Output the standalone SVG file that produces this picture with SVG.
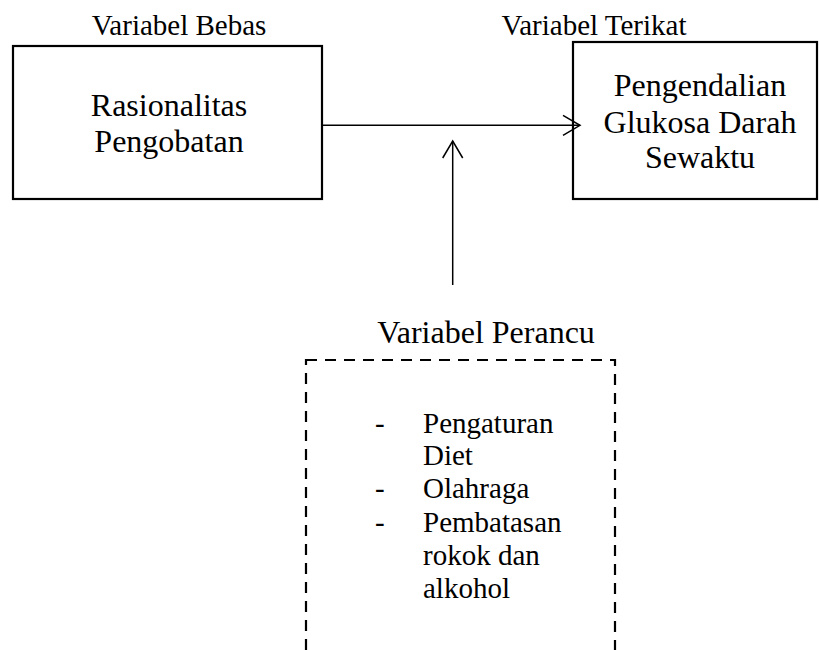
<svg xmlns="http://www.w3.org/2000/svg" width="819" height="650" viewBox="0 0 819 650">
  <style>
    text { font-family: 'Liberation Serif', 'Tinos', 'DejaVu Serif', serif; fill: #000; }
    .lbl { font-size: 29px; text-anchor: middle; }
    .main { font-size: 32px; text-anchor: middle; }
    .list { font-size: 29px; }
    .box { fill: #fff; stroke: #000; stroke-width: 2.2; }
    .dbox { fill: none; stroke: #000; stroke-width: 2.2; stroke-dasharray: 11 8; }
    .conn { fill: none; stroke: #000; stroke-width: 1.5; }
  </style>
  <defs>
    <marker id="chev" markerUnits="userSpaceOnUse" markerWidth="24" markerHeight="24" viewBox="-20 -12 24 24" refX="0" refY="0" orient="auto">
      <path d="M-17,-10 L0,0 L-17,10" fill="none" stroke="#000" stroke-width="1.5"/>
    </marker>
  </defs>
  <rect width="819" height="650" fill="#fff"/>

  <g id="bebas" font-family="'Liberation Serif', 'DejaVu Serif', serif">
    <text class="lbl" x="179" y="35">Variabel Bebas</text>
    <rect class="box" x="13" y="46" width="309" height="153"/>
    <text class="main" x="169" y="116">Rasionalitas</text>
    <text class="main" x="169" y="152">Pengobatan</text>
  </g>

  <g id="terikat" font-family="'Liberation Serif', 'DejaVu Serif', serif">
    <text class="lbl" x="594" y="35">Variabel Terikat</text>
    <rect class="box" x="573" y="42" width="244" height="157"/>
    <text class="main" x="700" y="96">Pengendalian</text>
    <text class="main" x="700" y="133">Glukosa Darah</text>
    <text class="main" x="700" y="168">Sewaktu</text>
  </g>

  <g id="perancu" font-family="'Liberation Serif', 'DejaVu Serif', serif">
    <text class="main" x="486" y="343">Variabel Perancu</text>
    <rect class="dbox" x="306" y="360" width="309" height="330"/>
    <text class="list" x="375" y="433">-</text>
    <text class="list" x="423" y="433">Pengaturan</text>
    <text class="list" x="423" y="465">Diet</text>
    <text class="list" x="375" y="498">-</text>
    <text class="list" x="423" y="498">Olahraga</text>
    <text class="list" x="375" y="532">-</text>
    <text class="list" x="423" y="532">Pembatasan</text>
    <text class="list" x="423" y="565">rokok dan</text>
    <text class="list" x="423" y="598">alkohol</text>
  </g>

  <g id="connectors">
    <line class="conn" x1="323" y1="125.3" x2="580" y2="125.3" marker-end="url(#chev)"/>
    <line class="conn" x1="452.7" y1="285" x2="452.7" y2="141" marker-end="url(#chev)"/>
  </g>
</svg>
